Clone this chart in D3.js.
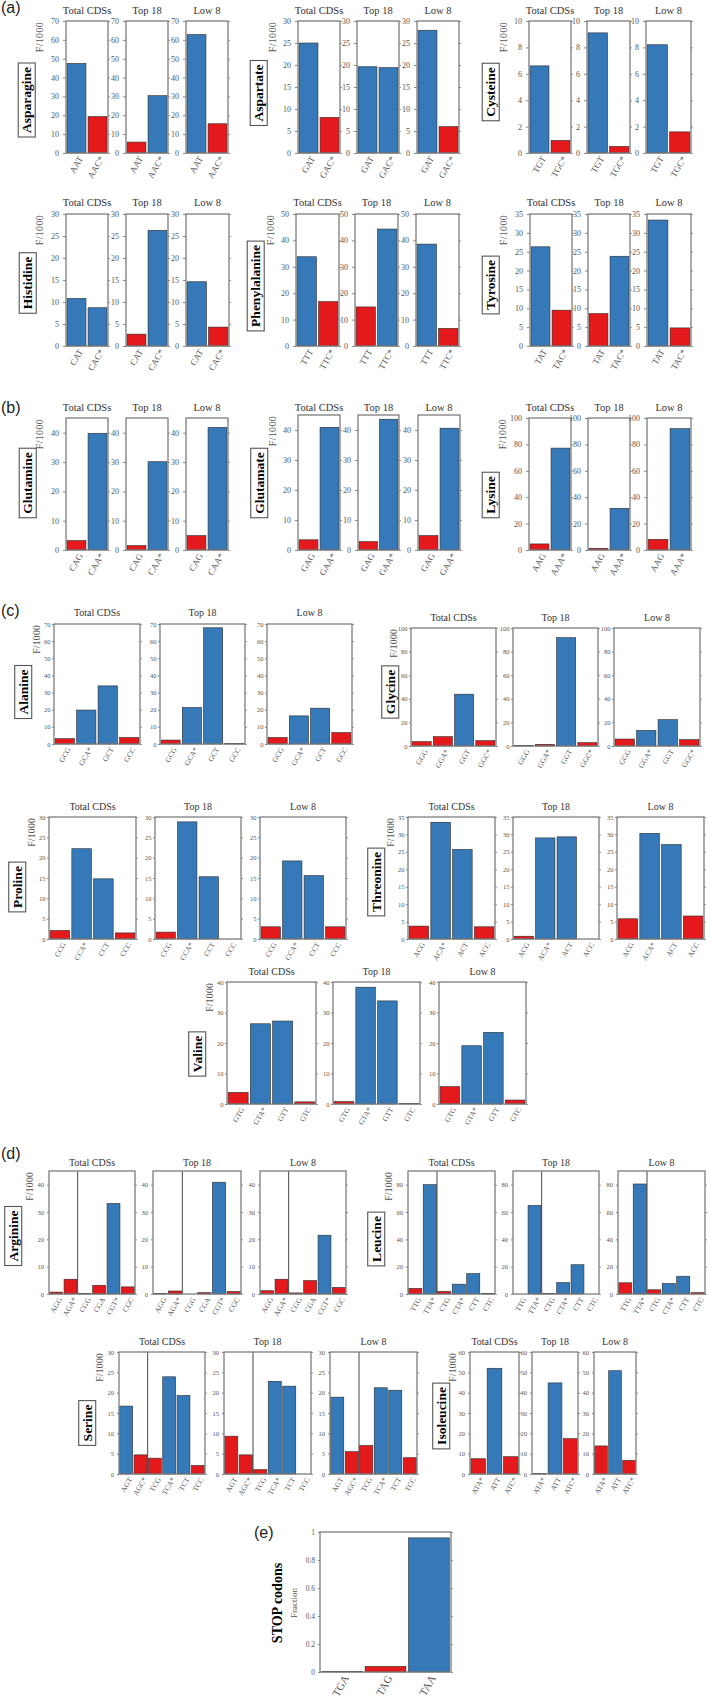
<!DOCTYPE html>
<html><head><meta charset="utf-8">
<script src="https://cdn.jsdelivr.net/npm/d3@7"></script>
<style>body{margin:0;background:#fff}</style>
</head><body><svg id="c" width="709" height="1699"></svg>
<script>
// ---------------- DATA ----------------
const panelTitles = ["Total CDSs", "Top 18", "Low 8"];
// values: [Total CDSs, Top 18, Low 8]; colours: b = blue, r = red
const asparagineCodons = ["AAT", "AAC*"];
const asparagineValues = [[47.5, 19.3], [5.8, 30.4], [62.8, 15.5]];
const asparagineColors = [["b", "r"], ["r", "b"], ["b", "r"]];
const asparagineTicks = [0, 10, 20, 30, 40, 50, 60, 70];

const aspartateCodons = ["GAT", "GAC*"];
const aspartateValues = [[25.0, 8.1], [19.6, 19.4], [27.9, 6.0]];
const aspartateColors = [["b", "r"], ["b", "b"], ["b", "r"]];
const aspartateTicks = [0, 5, 10, 15, 20, 25, 30];

const cysteineCodons = ["TGT", "TGC*"];
const cysteineValues = [[6.6, 0.95], [9.1, 0.5], [8.2, 1.6]];
const cysteineColors = [["b", "r"], ["b", "r"], ["b", "r"]];
const cysteineTicks = [0, 2, 4, 6, 8, 10];

const histidineCodons = ["CAT", "CAC*"];
const histidineValues = [[10.8, 8.7], [2.7, 26.3], [14.6, 4.3]];
const histidineColors = [["b", "b"], ["r", "b"], ["b", "r"]];
const histidineTicks = [0, 5, 10, 15, 20, 25, 30];

const phenylalanineCodons = ["TTT", "TTC*"];
const phenylalanineValues = [[33.8, 16.8], [14.8, 44.3], [38.6, 6.7]];
const phenylalanineColors = [["b", "r"], ["r", "b"], ["b", "r"]];
const phenylalanineTicks = [0, 10, 20, 30, 40, 50];

const tyrosineCodons = ["TAT", "TAC*"];
const tyrosineValues = [[26.3, 9.5], [8.6, 23.8], [33.4, 4.8]];
const tyrosineColors = [["b", "r"], ["r", "b"], ["b", "r"]];
const tyrosineTicks = [0, 5, 10, 15, 20, 25, 30, 35];

const glutamineCodons = ["CAG", "CAA*"];
const glutamineValues = [[3.2, 39.8], [1.5, 30.1], [4.9, 41.8]];
const glutamineColors = [["r", "b"], ["r", "b"], ["r", "b"]];
const glutamineTicks = [0, 10, 20, 30, 40];
const glutamineMax = 45;

const glutamateCodons = ["GAG", "GAA*"];
const glutamateValues = [[3.4, 40.9], [2.8, 43.6], [4.8, 40.6]];
const glutamateColors = [["r", "b"], ["r", "b"], ["r", "b"]];
const glutamateTicks = [0, 10, 20, 30, 40];
const glutamateMax = 45;

const lysineCodons = ["AAG", "AAA*"];
const lysineValues = [[4.6, 77.2], [1.3, 31.6], [8.1, 91.9]];
const lysineColors = [["r", "b"], ["r", "b"], ["r", "b"]];
const lysineTicks = [0, 20, 40, 60, 80, 100];

const alanineCodons = ["GCG", "GCA*", "GCT", "GCC"];
const alanineValues = [[3.1, 19.8, 33.9, 3.8], [2.3, 21.3, 67.8, 0.4], [3.8, 16.4, 20.9, 6.7]];
const alanineColors = [["r", "b", "b", "r"], ["r", "b", "b", "r"], ["r", "b", "b", "r"]];
const alanineTicks = [0, 10, 20, 30, 40, 50, 60, 70];

const glycineCodons = ["GGG", "GGA*", "GGT", "GGC*"];
const glycineValues = [[3.7, 7.9, 43.9, 4.5], [0.5, 1.4, 91.8, 2.8], [5.9, 13.2, 22.3, 5.4]];
const glycineColors = [["r", "r", "b", "r"], ["r", "r", "b", "r"], ["r", "b", "b", "r"]];
const glycineTicks = [0, 20, 40, 60, 80, 100];

const prolineCodons = ["CCG", "CCA*", "CCT", "CCC"];
const prolineValues = [[2.1, 22.2, 14.8, 1.5], [1.7, 28.8, 15.3, 0], [3.0, 19.2, 15.6, 3.0]];
const prolineColors = [["r", "b", "b", "r"], ["r", "b", "b", "r"], ["r", "b", "b", "r"]];
const prolineTicks = [0, 5, 10, 15, 20, 25, 30];

const threonineCodons = ["ACG", "ACA*", "ACT", "ACC"];
const threonineValues = [[3.7, 33.5, 25.7, 3.5], [0.8, 29.0, 29.3, 0], [5.8, 30.3, 27.1, 6.6]];
const threonineColors = [["r", "b", "b", "r"], ["r", "b", "b", "r"], ["r", "b", "b", "r"]];
const threonineTicks = [0, 5, 10, 15, 20, 25, 30, 35];

const valineCodons = ["GTG", "GTA*", "GTT", "GTC"];
const valineValues = [[3.8, 26.3, 27.2, 0.7], [0.8, 38.3, 33.8, 0.2], [5.7, 19.1, 23.5, 1.3]];
const valineColors = [["r", "b", "b", "r"], ["r", "b", "b", "r"], ["r", "b", "b", "r"]];
const valineTicks = [0, 10, 20, 30, 40];

const arginineCodons = ["AGG", "AGA*", "CGG", "CGA", "CGT*", "CGC"];
const arginineValues = [[0.7, 5.4, 0.2, 3.2, 33.1, 2.6], [0.2, 1.1, 0, 0.5, 40.9, 0.9], [1.2, 5.4, 0.4, 4.9, 21.5, 2.4]];
const arginineColors = [["r", "r", "r", "r", "b", "r"], ["r", "r", "r", "r", "b", "r"], ["r", "r", "r", "r", "b", "r"]];
const arginineTicks = [0, 10, 20, 30, 40];
const arginineMax = 45;

const leucineCodons = ["TTG", "TTA*", "CTG", "CTA*", "CTT", "CTC"];
const leucineValues = [[4.1, 80.0, 1.9, 7.2, 14.9, 0.5], [0, 64.8, 0.5, 8.4, 21.4, 0], [8.2, 80.5, 3.1, 7.7, 13.0, 1.0]];
const leucineColors = [["r", "b", "r", "b", "b", "r"], ["r", "b", "r", "b", "b", "r"], ["r", "b", "r", "b", "b", "r"]];
const leucineTicks = [0, 20, 40, 60, 80];
const leucineMax = 90;

const serineCodons = ["AGT", "AGC*", "TCG", "TCA*", "TCT", "TCC"];
const serineValues = [[16.7, 4.7, 3.9, 23.9, 19.3, 2.1], [9.3, 4.7, 1.1, 22.8, 21.6, 0], [18.9, 5.5, 7.0, 21.2, 20.6, 4.0]];
const serineColors = [["b", "r", "r", "b", "b", "r"], ["r", "r", "r", "b", "b", "r"], ["b", "r", "r", "b", "b", "r"]];
const serineTicks = [0, 5, 10, 15, 20, 25, 30];

const isoleucineCodons = ["ATA*", "ATT", "ATC*"];
const isoleucineValues = [[7.5, 52.0, 8.5], [0.3, 44.8, 17.4], [13.8, 50.8, 6.7]];
const isoleucineColors = [["r", "b", "r"], ["b", "b", "r"], ["r", "b", "r"]];
const isoleucineTicks = [0, 10, 20, 30, 40, 50, 60];

const stopCodons = ["TGA", "TAG", "TAA"];
const stopValues = [0.003, 0.04, 0.958];
const stopColors = ["b", "r", "b"];
const stopTicks = [0, 0.2, 0.4, 0.6, 0.8, 1];

// ---------------- DRAWING ----------------
const svg = d3.select("#c");
const COL = { b: "#3579b8", r: "#e3191c" };
const SERIF = "'Liberation Serif','Times New Roman',serif";
const SANS = "'Liberation Sans',Arial,sans-serif";
const fmt = d3.format("~g");

// style presets (a/b rows are drawn larger than c/d rows)
const STYLE_AB = { tfs: 8, tsz: 3, tpad: 4, xfs: 9, titfs: 10.5, ffs: 10 };
const STYLE_C = { tfs: 6.5, tsz: 2, tpad: 1.5, xfs: 7.5, titfs: 10, ffs: 9.5 };
const STYLE_D = { tfs: 6.5, tsz: 2, tpad: 3, xfs: 7.5, titfs: 10, ffs: 9.5 };

function drawPanel(codons, vals, cols, ticks, yMax, x0, x1, top, bottom, S, opts) {
  const g = svg.append("g");
  const y = d3.scaleLinear().domain([0, yMax]).range([bottom, top]);
  const x = d3.scaleBand().domain(codons).range([x0, x1]).paddingInner(opts.pin || 0.1).paddingOuter(opts.pout || 0.05);
  // left axis
  const ax = g.append("g").attr("transform", `translate(${x0},0)`)
    .call(d3.axisLeft(y).tickValues(ticks).tickSize(S.tsz).tickPadding(S.tpad).tickFormat(fmt));
  ax.select(".domain").remove();
  ax.selectAll("line").attr("stroke", "#888");
  ax.selectAll("text").attr("font-family", SERIF).attr("font-size", S.tfs).attr("fill", "#555");
  const ar = g.append("g").attr("transform", `translate(${x1},0)`)
    .call(d3.axisRight(y).tickValues(ticks).tickSize(2).tickFormat(""));
  ar.select(".domain").remove();
  ar.selectAll("line").attr("stroke", "#999");
  // bars
  g.selectAll("rect.bar").data(codons).join("rect").attr("class", "bar")
    .attr("x", d => x(d)).attr("width", x.bandwidth())
    .attr("y", (d, i) => y(vals[i])).attr("height", (d, i) => Math.max(0, y(0) - y(vals[i])))
    .attr("fill", (d, i) => COL[cols[i]]).attr("stroke", "#2b2b2b").attr("stroke-width", 0.6);
  // separator
  if (opts.sep != null) {
    const sx = x(codons[opts.sep]) - x.step() * x.paddingInner() / 2;
    g.append("line").attr("x1", sx).attr("x2", sx).attr("y1", top).attr("y2", bottom)
      .attr("stroke", "#333").attr("stroke-width", 0.9);
  }
  // frame
  g.append("rect").attr("x", x0).attr("y", top).attr("width", x1 - x0).attr("height", bottom - top)
    .attr("fill", "none").attr("stroke", "#7d7d7d").attr("stroke-width", 1.3);
  // x labels
  g.selectAll("text.xl").data(codons).join("text").attr("class", "xl")
    .attr("transform", d => `translate(${x(d) + x.bandwidth() / 2 + 4},${bottom + 4}) rotate(-60)`)
    .attr("text-anchor", "end").attr("dy", "0.35em")
    .attr("font-family", SERIF).attr("font-size", S.xfs).attr("fill", "#555")
    .text(d => d);
  // title
  if (opts.title) {
    g.append("text").attr("x", (x0 + x1) / 2).attr("y", opts.titleY).attr("text-anchor", "middle")
      .attr("font-family", SERIF).attr("font-size", S.titfs).attr("fill", "#333").text(opts.title);
  }
}

function nameLabel(name, cx, cy, boxed, fs) {
  const g = svg.append("g").attr("transform", `translate(${cx},${cy}) rotate(-90)`);
  const t = g.append("text").attr("text-anchor", "middle").attr("dy", "0.35em")
    .attr("font-family", SERIF).attr("font-weight", "bold").attr("font-size", fs || 13.5).attr("fill", "#000").text(name);
  if (boxed) {
    const bb = t.node().getBBox();
    g.insert("rect", "text").attr("x", bb.x - 4).attr("y", bb.y - 1).attr("width", bb.width + 8).attr("height", bb.height + 2)
      .attr("fill", "#fff").attr("stroke", "#555").attr("stroke-width", 1.1);
  }
}

function yLabel(text, x, y, fs) {
  svg.append("text").attr("transform", `translate(${x},${y}) rotate(-90)`).attr("text-anchor", "end")
    .attr("font-family", SERIF).attr("font-size", fs).attr("fill", "#555").attr("letter-spacing", 0.3).text(text);
}

function group(name, codons, values, colors, ticks, yMax, S, L) {
  for (let i = 0; i < 3; i++) {
    drawPanel(codons, values[i], colors[i], ticks, yMax, L.boxes[i][0], L.boxes[i][1], L.top, L.bottom, S,
      { title: panelTitles[i], titleY: L.titleY, sep: L.sep });
  }
  yLabel("F/1000", L.fx, L.top + 1, S.ffs);
  nameLabel(name, L.lx, L.ly, true);
}

function sectionLabel(t, x, y) {
  svg.append("text").attr("x", x).attr("y", y).attr("font-family", SANS).attr("font-size", 16).attr("fill", "#222").text(t);
}

// (a)
sectionLabel("(a)", 1, 13);
group("Asparagine", asparagineCodons, asparagineValues, asparagineColors, asparagineTicks, 70, STYLE_AB,
  { boxes: [[66, 108], [126, 168], [186, 228]], top: 21, bottom: 153, titleY: 14, fx: 43, lx: 26.5, ly: 100 });
group("Aspartate", aspartateCodons, aspartateValues, aspartateColors, aspartateTicks, 30, STYLE_AB,
  { boxes: [[298, 340], [357, 399], [417, 459]], top: 21, bottom: 153, titleY: 14, fx: 276, lx: 258.5, ly: 93 });
group("Cysteine", cysteineCodons, cysteineValues, cysteineColors, cysteineTicks, 10, STYLE_AB,
  { boxes: [[529, 571], [587, 630], [646, 691]], top: 21, bottom: 153, titleY: 14, fx: 507, lx: 490.5, ly: 92 });

group("Histidine", histidineCodons, histidineValues, histidineColors, histidineTicks, 30, STYLE_AB,
  { boxes: [[66, 108], [126, 168], [186, 229]], top: 214, bottom: 346, titleY: 206, fx: 43, lx: 27.5, ly: 283 });
group("Phenylalanine", phenylalanineCodons, phenylalanineValues, phenylalanineColors, phenylalanineTicks, 50, STYLE_AB,
  { boxes: [[296, 339], [355, 398], [416, 459]], top: 214, bottom: 346, titleY: 206, fx: 274, lx: 255.5, ly: 286 });
group("Tyrosine", tyrosineCodons, tyrosineValues, tyrosineColors, tyrosineTicks, 35, STYLE_AB,
  { boxes: [[530, 572], [588, 630], [647, 691]], top: 214, bottom: 346, titleY: 206, fx: 507, lx: 490.5, ly: 285 });

// (b)
sectionLabel("(b)", 1, 413);
group("Glutamine", glutamineCodons, glutamineValues, glutamineColors, glutamineTicks, glutamineMax, STYLE_AB,
  { boxes: [[66, 108], [126, 168], [186, 228]], top: 418, bottom: 550, titleY: 411, fx: 43, lx: 27.5, ly: 483 });
group("Glutamate", glutamateCodons, glutamateValues, glutamateColors, glutamateTicks, glutamateMax, STYLE_AB,
  { boxes: [[298, 340], [358, 399], [418, 460]], top: 415, bottom: 550, titleY: 411, fx: 276, lx: 259, ly: 483 });
group("Lysine", lysineCodons, lysineValues, lysineColors, lysineTicks, 100, STYLE_AB,
  { boxes: [[529, 571], [588, 630], [647, 691]], top: 418, bottom: 550, titleY: 411, fx: 506, lx: 490.5, ly: 495 });

// (c)
sectionLabel("(c)", 1, 616);
group("Alanine", alanineCodons, alanineValues, alanineColors, alanineTicks, 70, STYLE_C,
  { boxes: [[54, 140], [160, 245], [267, 352]], top: 624, bottom: 744, titleY: 616, fx: 40, lx: 23, ly: 692 });
group("Glycine", glycineCodons, glycineValues, glycineColors, glycineTicks, 100, STYLE_C,
  { boxes: [[411, 496], [513, 598], [614, 700]], top: 628, bottom: 746, titleY: 621, fx: 397, lx: 390, ly: 692 });
group("Proline", prolineCodons, prolineValues, prolineColors, prolineTicks, 30, STYLE_C,
  { boxes: [[49, 136], [155, 241], [260, 346]], top: 817, bottom: 939, titleY: 810, fx: 35, lx: 17, ly: 887 });
group("Threonine", threonineCodons, threonineValues, threonineColors, threonineTicks, 35, STYLE_C,
  { boxes: [[408, 495], [513, 599], [617, 704]], top: 817, bottom: 939, titleY: 810, fx: 394, lx: 376, ly: 882 });
group("Valine", valineCodons, valineValues, valineColors, valineTicks, 40, STYLE_C,
  { boxes: [[227, 316], [333, 420], [439, 526]], top: 982, bottom: 1104, titleY: 975, fx: 213, lx: 197, ly: 1054 });

// (d)
sectionLabel("(d)", 1, 1159);
group("Arginine", arginineCodons, arginineValues, arginineColors, arginineTicks, arginineMax, STYLE_D,
  { boxes: [[49, 135], [153, 241], [260, 346]], top: 1171, bottom: 1294, titleY: 1166, fx: 33, lx: 13, ly: 1236, sep: 2 });
group("Leucine", leucineCodons, leucineValues, leucineColors, leucineTicks, leucineMax, STYLE_D,
  { boxes: [[408, 495], [513, 599], [618, 705]], top: 1171, bottom: 1294, titleY: 1166, fx: 392, lx: 376, ly: 1239, sep: 2 });
group("Serine", serineCodons, serineValues, serineColors, serineTicks, 30, STYLE_D,
  { boxes: [[119, 205], [224, 311], [330, 417]], top: 1352, bottom: 1474, titleY: 1345, fx: 103, lx: 87, ly: 1423, sep: 2 });
group("Isoleucine", isoleucineCodons, isoleucineValues, isoleucineColors, isoleucineTicks, 60, STYLE_D,
  { boxes: [[470, 519], [532, 578], [594, 636]], top: 1352, bottom: 1474, titleY: 1345, fx: 456, lx: 441, ly: 1416 });

// (e)
sectionLabel("(e)", 254, 1538);
drawPanel(stopCodons, stopValues, stopColors, stopTicks, 1, 320, 451, 1532, 1672,
  { tfs: 7.5, tsz: 2, tpad: 3, xfs: 11, titfs: 10 }, { pin: 0.06, pout: 0.04 });
nameLabel("STOP codons", 277, 1603, false, 14);
svg.append("text").attr("transform", "translate(297,1603) rotate(-90)").attr("text-anchor", "middle")
  .attr("font-family", SERIF).attr("font-size", 9).attr("fill", "#555").text("Fraction");
</script></body></html>
